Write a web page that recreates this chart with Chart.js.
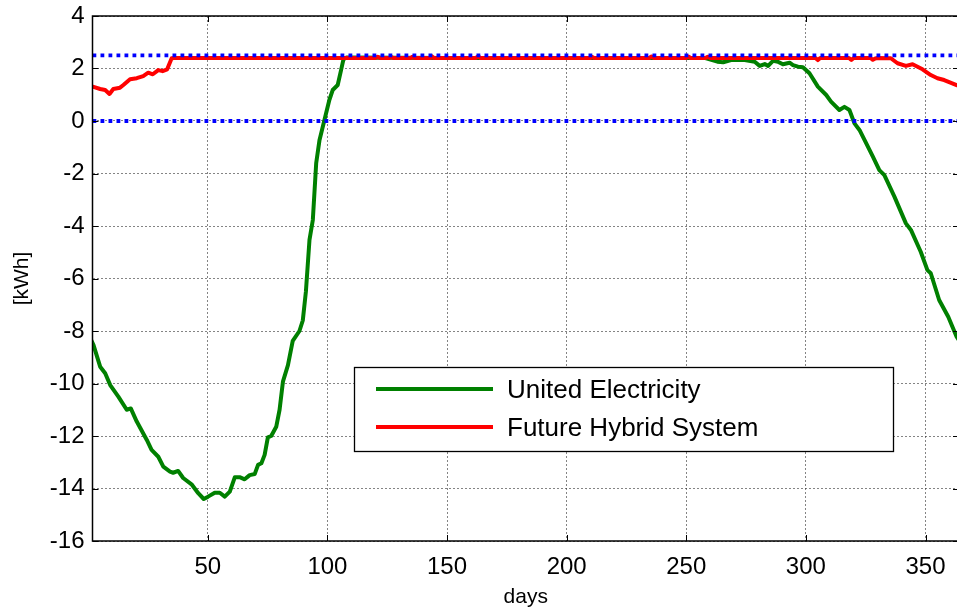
<!DOCTYPE html>
<html><head><meta charset="utf-8">
<script src="https://cdn.jsdelivr.net/npm/chart.js@4.4.0/dist/chart.umd.min.js"></script>
<style>html,body{margin:0;padding:0;background:#fff;overflow:hidden}#wrap{width:962px;height:610px}</style>
</head><body><div id="wrap"><canvas id="c" width="962" height="610" style="width:962px;height:610px"></canvas></div>
<script>
// ---- data ----
const seriesNames = ['United Electricity', 'Future Hybrid System'];
const greenDays = [1, 2.2, 5, 7.1, 9.2, 12.6, 16.1, 17.8, 20.3, 24.5, 26.5, 29.3, 31.4, 34.2, 35.5, 37.6, 39.7, 43.2, 46, 48.3, 50.1, 52.9, 55, 57.1, 59.2, 61.3, 63.3, 65.4, 67.5, 69.6, 71, 72.4, 73.75, 75.1, 76.5, 78.6, 80, 81.4, 83.5, 85.5, 88.3, 89.7, 91, 92.5, 93.9, 95.3, 96.7, 98.75, 100.8, 102.2, 104.3, 105.7, 106.7, 108, 150, 200, 240, 258, 263, 265.4, 268.75, 274.4, 278.6, 280.7, 282.8, 284.2, 286.25, 288.3, 290.4, 293.2, 294.6, 296.7, 298.75, 301.5, 305, 308.5, 310.5, 314, 316.1, 318.2, 320.3, 322.4, 324.5, 328, 330.7, 332.8, 337, 341.8, 343.9, 348, 350.8, 352.2, 355.7, 359.5, 363, 365];
const greenVals = [-8.3, -8.53, -9.36, -9.61, -10.06, -10.5, -11.0, -10.95, -11.45, -12.15, -12.53, -12.79, -13.17, -13.36, -13.4, -13.33, -13.6, -13.84, -14.18, -14.4, -14.31, -14.16, -14.16, -14.31, -14.12, -13.57, -13.57, -13.65, -13.49, -13.45, -13.1, -13.04, -12.72, -12.05, -12.0, -11.65, -11.0, -9.93, -9.3, -8.38, -8.0, -7.6, -6.5, -4.53, -3.77, -1.61, -0.72, 0.04, 0.8, 1.18, 1.37, 1.94, 2.35, 2.42, 2.40, 2.40, 2.40, 2.40, 2.26, 2.24, 2.32, 2.32, 2.26, 2.1, 2.17, 2.1, 2.29, 2.26, 2.16, 2.22, 2.13, 2.07, 2.05, 1.82, 1.31, 0.99, 0.74, 0.42, 0.54, 0.42, -0.09, -0.34, -0.72, -1.36, -1.87, -2.06, -2.88, -3.9, -4.15, -4.98, -5.68, -5.8, -6.82, -7.46, -8.22, -8.5];
const redDays = [1, 1.9, 5, 7.1, 8.9, 10.5, 13.3, 14.7, 17.5, 20.3, 23, 25.1, 27, 29.3, 31.1, 33, 34.9, 36, 120, 121, 122, 126, 126.5, 127.5, 135, 135.5, 136.5, 143, 143.75, 144.5, 162, 163, 164, 210, 210.5, 211.5, 234.5, 235.5, 236.5, 250, 250.8, 251.8, 258, 259, 260, 304, 305, 306, 318, 319, 320, 327, 328, 329, 330, 335.5, 338.3, 341.8, 344.6, 348.75, 352.2, 355, 357.8, 363, 365];
const redVals = [1.33, 1.31, 1.22, 1.18, 1.03, 1.22, 1.27, 1.37, 1.59, 1.63, 1.71, 1.84, 1.78, 1.94, 1.9, 1.97, 2.39, 2.40, 2.40, 2.45, 2.40, 2.40, 2.45, 2.40, 2.40, 2.45, 2.40, 2.40, 2.46, 2.40, 2.40, 2.46, 2.40, 2.40, 2.45, 2.40, 2.40, 2.46, 2.40, 2.40, 2.46, 2.40, 2.40, 2.45, 2.40, 2.40, 2.32, 2.40, 2.40, 2.33, 2.40, 2.40, 2.33, 2.38, 2.40, 2.39, 2.2, 2.1, 2.16, 1.97, 1.75, 1.63, 1.56, 1.37, 1.3];
const refLevels = [0, 2.5];
const xTickValues = [50, 100, 150, 200, 250, 300, 350];
const yTickValues = [-16, -14, -12, -10, -8, -6, -4, -2, 0, 2, 4];
const xRange = [1.8, 364];
const yRange = [-16, 4];
const xTitle = 'days';
const yTitle = '[kWh]';

// ---- build ----
const FONT = "'Liberation Sans', Arial, sans-serif";
const toPts = (xs, ys) => xs.map((d, i) => ({x: d, y: ys[i]}));
const refSets = refLevels.map(v => ({
  label: 'ref' + v, data: [{x: xRange[0], y: v}, {x: xRange[1], y: v}],
  borderColor: '#0000ff', borderWidth: 3.8, borderDash: [3.8, 4.2], borderCapStyle: 'butt',
  pointRadius: 0, order: 0, isRef: true
}));

const boxPlugin = {
  id: 'boxPlugin',
  afterDraw(chart) {
    const {ctx, chartArea: a, scales: {x, y}} = chart;
    ctx.save();
    ctx.strokeStyle = '#000';
    ctx.lineWidth = 1;
    const L = 6;
    ctx.beginPath();
    x.ticks.forEach(t => {
      const px = Math.round(x.getPixelForValue(t.value)) + 0.5;
      ctx.moveTo(px, a.bottom); ctx.lineTo(px, a.bottom - L);
      ctx.moveTo(px, a.top); ctx.lineTo(px, a.top + L);
    });
    y.ticks.forEach(t => {
      const py = Math.round(y.getPixelForValue(t.value)) + 0.5;
      ctx.moveTo(a.left, py); ctx.lineTo(a.left + L, py);
      ctx.moveTo(a.right, py); ctx.lineTo(a.right - L, py);
    });
    ctx.stroke();
    ctx.lineWidth = 1.5;
    ctx.strokeRect(a.left, a.top, a.right - a.left, a.bottom - a.top);

    // legend
    const lx = 354.5, ly = 367.5, lw = 539, lh = 84;
    ctx.fillStyle = '#fff';
    ctx.fillRect(lx, ly, lw, lh);
    ctx.lineWidth = 1.3;
    ctx.strokeRect(lx, ly, lw, lh);
    const entries = seriesNames.map(n => chart.data.datasets.find(d => d.label === n));
    ctx.font = '26px ' + FONT;
    ctx.textBaseline = 'middle';
    ctx.textAlign = 'left';
    entries.forEach((d, i) => {
      const yy = 389 + i * 38;
      ctx.strokeStyle = d.borderColor;
      ctx.lineWidth = 4;
      ctx.beginPath(); ctx.moveTo(376, yy); ctx.lineTo(493, yy); ctx.stroke();
      ctx.fillStyle = '#000';
      ctx.fillText(d.label, 507, yy + 2);
    });
    ctx.restore();
  }
};

new Chart(document.getElementById('c'), {
  type: 'line',
  data: {
    datasets: [
      ...refSets,
      {label: seriesNames[1], data: toPts(redDays, redVals), borderColor: '#ff0000', borderWidth: 4, pointRadius: 0, order: 1},
      {label: seriesNames[0], data: toPts(greenDays, greenVals), borderColor: '#008000', borderWidth: 4, pointRadius: 0, order: 2}
    ]
  },
  options: {
    responsive: false, animation: false, devicePixelRatio: 1,
    layout: {padding: {left: 0, top: 16, right: 3, bottom: 0}},
    plugins: {legend: {display: false}, tooltip: {enabled: false}},
    elements: {line: {tension: 0, borderJoinStyle: 'round', borderCapStyle: 'round'}},
    scales: {
      x: {
        type: 'linear', min: xRange[0], max: xRange[1],
        afterBuildTicks: s => { s.ticks = xTickValues.map(v => ({value: v})); },
        afterFit: s => { s.height = 69; s.paddingLeft = 0; s.paddingRight = 0; },
        grid: {color: 'rgba(50,50,50,0.6)', lineWidth: 1, drawTicks: false},
        border: {display: false, dash: [2, 2]},
        ticks: {color: '#000', font: {family: FONT, size: 24}, padding: 12, maxRotation: 0, autoSkip: false},
        title: {display: true, text: xTitle, color: '#000', font: {family: FONT, size: 21}, padding: {top: 0, bottom: 0}}
      },
      y: {
        type: 'linear', min: yRange[0], max: yRange[1],
        afterBuildTicks: s => { s.ticks = yTickValues.map(v => ({value: v})); },
        afterFit: s => { s.width = 92.5; s.paddingTop = 0; s.paddingBottom = 0; },
        grid: {color: 'rgba(50,50,50,0.6)', lineWidth: 1, drawTicks: false},
        border: {display: false, dash: [2, 2]},
        ticks: {color: '#000', font: {family: FONT, size: 24}, padding: 8},
        title: {display: true, text: yTitle, color: '#000', font: {family: FONT, size: 21}, padding: {top: 10, bottom: 0}}
      }
    }
  },
  plugins: [boxPlugin]
});
</script></body></html>
